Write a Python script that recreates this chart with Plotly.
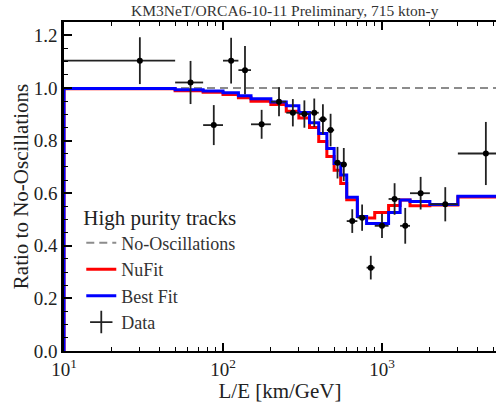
import plotly.graph_objects as go

# Bin edges in L/E [km/GeV]
bin_edges = [10, 50, 75, 100, 125, 150, 200, 250, 300, 350, 400, 450, 500, 550,
             600, 700, 800, 900, 1100, 1300, 1500, 2000, 3000, 6000]

best_fit = [0.998, 0.993, 0.989, 0.982, 0.971, 0.959, 0.947, 0.933, 0.907, 0.868,
            0.827, 0.770, 0.713, 0.669, 0.585, 0.511, 0.485, 0.485, 0.527, 0.574,
            0.568, 0.557, 0.588]

nufit = [0.997, 0.990, 0.984, 0.975, 0.963, 0.950, 0.937, 0.912, 0.886, 0.850,
         0.797, 0.740, 0.687, 0.637, 0.575, 0.511, 0.506, 0.527, 0.553, 0.574,
         0.552, 0.555, 0.586]

data_x = [30, 62.5, 87.5, 112.5, 137.5, 175, 225, 275, 325, 375, 425, 475, 525, 575,
          650, 750, 850, 1000, 1200, 1400, 1750, 2500, 4500]
data_y = [1.104, 1.021, 0.859, 1.104, 1.068, 0.862, 0.948, 0.906, 0.901, 0.906,
          0.881, 0.840, 0.716, 0.709, 0.494, 0.507, 0.317, 0.476, 0.578, 0.476,
          0.600, 0.558, 0.751]
data_err = [0.089, 0.082, 0.076, 0.087, 0.092, 0.055, 0.055, 0.052, 0.052, 0.054,
            0.057, 0.062, 0.060, 0.063, 0.045, 0.050, 0.045, 0.046, 0.060, 0.068,
            0.062, 0.065, 0.120]

x_ticks = [10, 100, 1000]
x_ticktext = ["10<sup>1</sup>", "10<sup>2</sup>", "10<sup>3</sup>"]
x_minor = [m * d for d in (10, 100, 1000) for m in range(2, 10)]

TITLE = "KM3NeT/ORCA6-10-11 Preliminary, 715 kton-y"
FONT = "Liberation Serif"

def step_xy(edges, vals):
    xs = [edges[0]] + list(edges)
    ys = [0] + list(vals) + [vals[-1]]
    return xs, ys

err_plus = [hi - x for x, hi in zip(data_x, bin_edges[1:])]
err_minus = [x - lo for x, lo in zip(data_x, bin_edges[:-1])]

fig = go.Figure()

fig.add_trace(go.Scatter(
    x=[bin_edges[0], bin_edges[-1]], y=[1.0, 1.0], mode="lines",
    line=dict(color="#8c8c8c", width=2, dash="8px,5px"),
    name="No-Oscillations"))

nx, ny = step_xy(bin_edges, nufit)
fig.add_trace(go.Scatter(x=nx, y=ny, mode="lines", line_shape="hv",
                         line=dict(color="#ff0000", width=3), name="NuFit"))

bx, by = step_xy(bin_edges, best_fit)
fig.add_trace(go.Scatter(x=bx, y=by, mode="lines", line_shape="hv",
                         line=dict(color="#0000ff", width=3), name="Best Fit"))

fig.add_trace(go.Scatter(
    x=data_x, y=data_y, mode="markers", showlegend=False,
    marker=dict(color="black", size=6),
    error_y=dict(type="data", array=data_err, color="#222222", thickness=1.8, width=0),
    error_x=dict(type="data", symmetric=False, array=err_plus, arrayminus=err_minus,
                 color="#222222", thickness=1.8, width=0),
    name="Data"))

# legend-only entry for data
fig.add_trace(go.Scatter(
    x=[None], y=[None], mode="markers", name="Data",
    marker=dict(symbol="cross-thin", size=17, color="black",
                line=dict(color="#222222", width=1.8))))

fig.add_annotation(text=TITLE, xref="paper", yref="paper", x=0.512, y=1,
                   xanchor="center", yanchor="bottom", yshift=1, showarrow=False,
                   font=dict(family=FONT, size=15.5, color="#333333"))

fig.update_layout(
    width=496, height=403,
    margin=dict(l=64, r=0, t=22, b=52),
    paper_bgcolor="white", plot_bgcolor="white",
    font=dict(family=FONT, color="#222222", size=19),
    showlegend=True,
    legend=dict(x=0.04, xanchor="left", y=0.467, yanchor="top",
                bgcolor="rgba(0,0,0,0)",
                title=dict(text="High purity tracks", font=dict(size=21, family=FONT, color="#222222")),
                font=dict(size=18, family=FONT, color="#333333")),
    xaxis=dict(type="log", range=[1, 3.717],
               tickmode="array", tickvals=x_ticks, ticktext=x_ticktext,
               ticks="inside", ticklen=8, tickwidth=1.5, tickcolor="black",
               showline=True, linewidth=2, linecolor="black", mirror="ticks",
               showgrid=False, zeroline=False,
               tickfont=dict(size=19, family=FONT, color="#222222"),
               minor=dict(tickmode="array", tickvals=x_minor, ticks="inside",
                          ticklen=4, tickwidth=1.2, tickcolor="black", showgrid=False),
               title=dict(text="L/E [km/GeV]", font=dict(size=21, family=FONT, color="#222222"),
                          standoff=0)),
    yaxis=dict(range=[0, 1.251], dtick=0.2, tick0=0, tickformat=".1f",
               ticks="inside", ticklen=8, tickwidth=1.5, tickcolor="black",
               showline=True, linewidth=2.5, linecolor="black", mirror=False,
               showgrid=False, zeroline=False,
               tickfont=dict(size=19, family=FONT, color="#222222"),
               minor=dict(dtick=0.05, ticks="inside", ticklen=4, tickwidth=1.2,
                          tickcolor="black", showgrid=False),
               title=dict(text="Ratio to No-Oscillations",
                          font=dict(size=21, family=FONT, color="#222222"), standoff=0)),
    yaxis2=dict(range=[0, 1.251], dtick=0.2, tick0=0, overlaying="y", side="right",
                anchor="x", ticks="inside", ticklen=3, tickwidth=1.5, tickcolor="black",
                showticklabels=False, showline=False, showgrid=False, zeroline=False),
)

fig.write_html("out.html")
